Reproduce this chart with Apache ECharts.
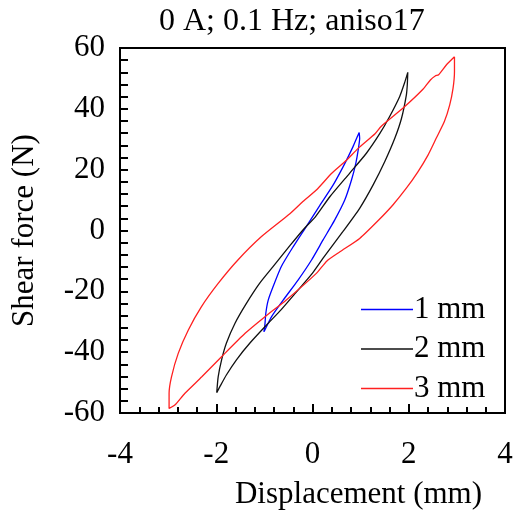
<!DOCTYPE html>
<html>
<head>
<meta charset="utf-8">
<script src="https://cdn.jsdelivr.net/npm/echarts@6/dist/echarts.min.js"></script>
<style>html,body{margin:0;padding:0;background:#fff;}#c{width:519px;height:517px;}</style>
</head>
<body>
<div id="c"></div>
<script>
var titleText = '0 A; 0.1 Hz; aniso17';
var xName = 'Displacement (mm)';
var yName = 'Shear force (N)';
var seriesNames = ['1 mm', '2 mm', '3 mm'];

var disp1 = [0.97, 0.98, 0.95, 0.90, 0.81, 0.67, 0.46, 0.22, -0.02, -0.30, -0.61, -0.85, -0.99, -1.01, -0.99, -0.97, -0.92, -0.82, -0.65, -0.40, -0.13, 0.15, 0.43, 0.67, 0.84, 0.93, 0.97];
var force1 = [32.2, 30.3, 26.5, 22.1, 16.6, 10.0, 3.4, -3.1, -9.7, -16.3, -22.9, -28.3, -32.7, -33.3, -31.1, -27.2, -22.9, -18.5, -11.9, -5.3, 1.3, 8.2, 15.0, 22.0, 27.5, 30.8, 32.2];

var disp2 = [1.98, 1.97, 1.95, 1.85, 1.71, 1.50, 1.26, 0.98, 0.63, 0.22, 0.00, -0.35, -0.65, -0.95, -1.30, -1.58, -1.79, -1.93, -1.99, -1.96, -1.89, -1.79, -1.61, -1.37, -1.10, -0.82, -0.47, -0.18, 0.06, 0.36, 0.77, 1.12, 1.40, 1.60, 1.81, 1.91, 1.98];
var force2 = [52.0, 48.0, 44.5, 36.9, 30.3, 22.6, 15.0, 7.3, -0.4, -9.1, -14.0, -20.5, -26.0, -31.0, -37.0, -42.5, -47.5, -51.5, -53.3, -48.1, -42.6, -37.1, -30.5, -23.9, -17.4, -11.9, -5.0, 0.5, 4.5, 11.1, 18.8, 25.4, 31.9, 37.4, 44.0, 48.4, 52.0];

var disp3 = [2.95, 2.95, 2.92, 2.85, 2.74, 2.57, 2.40, 2.19, 1.95, 1.67, 1.36, 0.98, 0.57, 0.30, 0.08, -0.55, -1.00, -1.40, -1.89, -2.30, -2.65, -2.86, -2.98, -2.98, -2.93, -2.79, -2.58, -2.31, -1.96, -1.55, -1.06, -0.47, -0.20, 0.08, 0.40, 0.70, 0.95, 1.30, 1.43, 1.90, 2.30, 2.45, 2.55, 2.62, 2.78, 2.95];
var force3 = [57.1, 52.2, 46.7, 41.2, 35.8, 30.3, 24.8, 19.3, 13.9, 8.4, 3.2, -2.6, -7.0, -10.0, -14.1, -22.9, -28.5, -33.8, -41.5, -48.1, -53.5, -57.4, -58.5, -53.5, -48.1, -40.4, -32.7, -25.1, -17.4, -9.7, -2.0, 5.5, 9.5, 13.3, 18.8, 23.0, 27.0, 31.8, 34.3, 40.5, 46.5, 49.5, 50.8, 51.2, 54.4, 57.1];

var xTicks = {min: -4, max: 4, step: 2};
var yTicks = {min: -60, max: 60, step: 20};

var FONT = "'Liberation Serif', 'Times New Roman', serif";
function pairs(xs, ys) { return xs.map(function (v, i) { return [v, ys[i]]; }); }

var chart = echarts.init(document.getElementById('c'), null, {renderer: 'canvas'});
var axisCommon = function () {
  return {
    type: 'value',
    splitLine: {show: false},
    axisLine: {show: true, onZero: false, lineStyle: {color: '#000', width: 2}},
    axisLabel: {color: '#000', fontSize: 31, fontFamily: FONT},
    nameTextStyle: {color: '#000', fontSize: 31, fontFamily: FONT}
  };
};
var xa = axisCommon();
xa.min = xTicks.min; xa.max = xTicks.max; xa.interval = xTicks.step;
xa.axisTick = {show: true, inside: true, length: 9, lineStyle: {color: '#000', width: 2}};
xa.minorTick = {show: true, splitNumber: 5, length: 6, lineStyle: {color: '#000', width: 2}};
xa.axisLabel.margin = 26;
xa.name = xName; xa.nameLocation = 'middle'; xa.nameGap = 66;
xa.nameTextStyle.padding = [0, 0, 0, 92];

var ya = axisCommon();
ya.min = yTicks.min; ya.max = yTicks.max; ya.interval = yTicks.step;
ya.axisTick = {show: true, inside: true, length: 8, lineStyle: {color: '#000', width: 2}};
ya.minorTick = {show: true, splitNumber: 5, length: 8, lineStyle: {color: '#000', width: 2}};
ya.axisLabel.margin = 15;
ya.name = yName; ya.nameLocation = 'middle'; ya.nameGap = 80;

var colors = ['#0000ff', '#111111', '#ff2020'];
var datas = [pairs(disp1, force1), pairs(disp2, force2), pairs(disp3, force3)];

chart.setOption({
  animation: false,
  title: {text: titleText, left: 154, top: 1, textStyle: {color: '#000', fontSize: 32, fontWeight: 'normal', fontFamily: FONT}},
  grid: {left: 120, right: 14, top: 48, bottom: 104, show: true, borderColor: '#000', borderWidth: 2, backgroundColor: 'transparent'},
  xAxis: xa,
  yAxis: ya,
  legend: {
    data: seriesNames, orient: 'vertical', left: 356, top: 289, itemWidth: 52, itemHeight: 2, itemGap: 8.5,
    icon: 'path://M0,0L100,0L100,3L0,3Z',
    textStyle: {color: '#000', fontSize: 31, fontFamily: FONT, padding: [0, 0, 0, -4]}
  },
  series: seriesNames.map(function (n, i) {
    return {
      name: n, type: 'line', data: datas[i], symbol: 'none', smooth: 0.2,
      lineStyle: {color: colors[i], width: 1.3}, itemStyle: {color: colors[i]}
    };
  })
});
</script>
</body>
</html>
